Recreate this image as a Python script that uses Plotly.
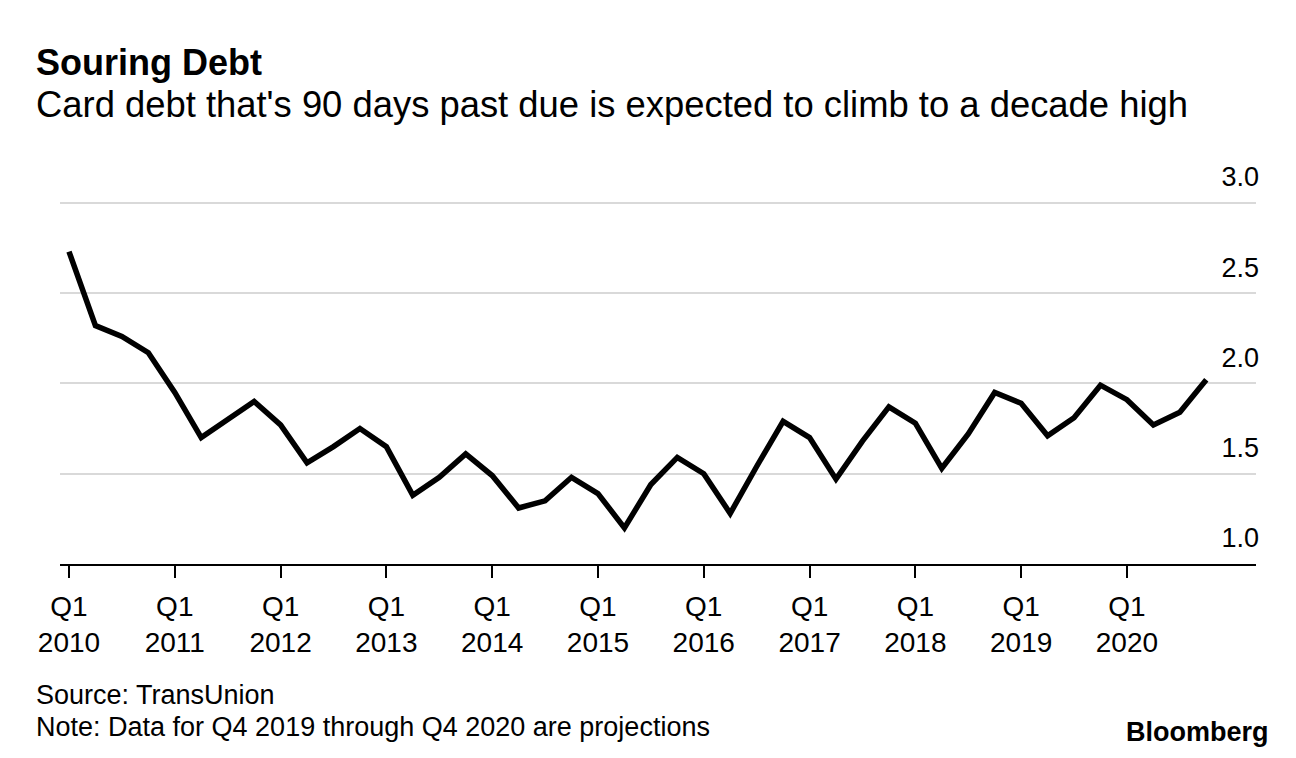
import plotly.graph_objects as go

# ---- data ----
years = list(range(2010, 2021))
quarters = [f"Q{q} {y}" for y in years for q in range(1, 5)]
values = [
    2.73, 2.32, 2.26, 2.17,   # 2010
    1.95, 1.70, 1.80, 1.90,   # 2011
    1.77, 1.56, 1.65, 1.75,   # 2012
    1.65, 1.38, 1.48, 1.61,   # 2013
    1.49, 1.31, 1.35, 1.48,   # 2014
    1.39, 1.20, 1.44, 1.59,   # 2015
    1.50, 1.28, 1.54, 1.79,   # 2016
    1.70, 1.47, 1.68, 1.87,   # 2017
    1.78, 1.53, 1.72, 1.95,   # 2018
    1.89, 1.71, 1.81, 1.99,   # 2019
    1.91, 1.77, 1.84, 2.02,   # 2020
]
x_tick_vals = [f"Q1 {y}" for y in years]
x_tick_text = [f"Q1<br>{y}" for y in years]
y_tick_vals = [1.0, 1.5, 2.0, 2.5, 3.0]
y_tick_text = ["1.0", "1.5", "2.0", "2.5", "3.0"]

title = "Souring Debt"
subtitle = "Card debt that's 90 days past due is expected to climb to a decade high"
source = "Source: TransUnion"
note = "Note: Data for Q4 2019 through Q4 2020 are projections"

FONT = "Liberation Sans, Arial, Helvetica, sans-serif"
OFF = 8  # page body margin
W, H = 1288, 750
L, R, T, B = 52, 40, 152, 194
PW, PH = W - L - R, H - T - B


def px_x(x):
    return (x - OFF - L) / PW


def px_y(y):
    return (H - B - (y - OFF)) / PH


fig = go.Figure()
fig.add_trace(go.Scatter(
    x=quarters, y=values, mode="lines",
    line=dict(color="black", width=5.5),
    hoverinfo="x+y",
))

fig.update_layout(
    width=W, height=H,
    margin=dict(l=L, r=R, t=T, b=B),
    paper_bgcolor="white", plot_bgcolor="white",
    showlegend=False,
    font=dict(family=FONT, color="black", size=27),
    xaxis=dict(
        type="category",
        range=[-0.34, 44.88],
        tickmode="array", tickvals=x_tick_vals, ticktext=x_tick_text,
        showgrid=False, zeroline=False,
        showline=True, linecolor="black", linewidth=2,
        ticks="outside", ticklen=12, tickwidth=2, tickcolor="black",
        ticklabelstandoff=4,
        tickfont=dict(size=28, family=FONT, color="black"),
        fixedrange=True,
    ),
    yaxis=dict(
        range=[1.0, 1.0 + PH / 180.6],
        side="right",
        tickmode="array", tickvals=y_tick_vals, ticktext=y_tick_text,
        ticklabelposition="inside",
        ticklabelshift=-26,
        ticklabelstandoff=-6,
        ticklabeloverflow="allow",
        ticks="",
        showgrid=True, gridcolor="#d9d9d9", gridwidth=2,
        zeroline=False, showline=False,
        tickfont=dict(size=27, family=FONT, color="black"),
        fixedrange=True,
    ),
)

anns = [
    dict(text=f"<b>{title}</b>", x=px_x(34), y=px_y(62), size=36),
    dict(text=subtitle, x=px_x(34), y=px_y(104), size=36.4),
    dict(text=source, x=px_x(34), y=px_y(695), size=27),
    dict(text=note, x=px_x(34), y=px_y(727), size=27),
]
for a in anns:
    fig.add_annotation(
        text=a["text"], x=a["x"], y=a["y"], xref="paper", yref="paper",
        xanchor="left", yanchor="middle", showarrow=False,
        font=dict(size=a["size"], family=FONT, color="black"),
    )
fig.add_annotation(
    text="<b>Bloomberg</b>", x=px_x(1271), y=px_y(732), xref="paper", yref="paper",
    xanchor="right", yanchor="middle", showarrow=False,
    font=dict(size=27, family=FONT, color="black"),
)

fig.write_html("out.html", config={"displayModeBar": False})
